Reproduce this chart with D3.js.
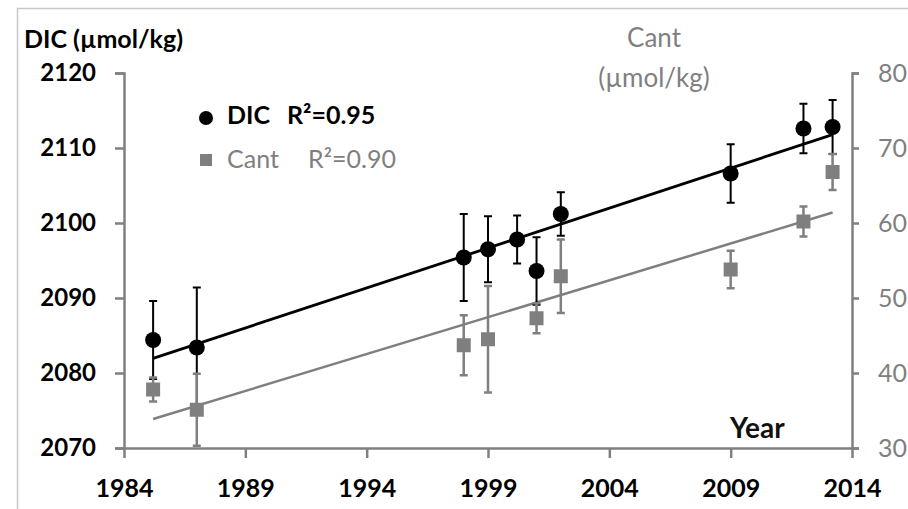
<!DOCTYPE html>
<html>
<head>
<meta charset="utf-8">
<script src="https://cdn.jsdelivr.net/npm/d3@7"></script>
<style>
  html, body { margin: 0; padding: 0; background: #fff; }
  svg { display: block; }
  text { font-family: Lato, "Open Sans", sans-serif; }
</style>
</head>
<body>
<svg id="chart" width="908" height="509"></svg>
<script>
// ---- data ----
const dicYears  = [1985.2, 1987, 1998, 1999, 2000.2, 2001, 2002, 2009, 2012, 2013.2];
const dicValues = [2084.4, 2083.4, 2095.4, 2096.5, 2097.8, 2093.6, 2101.2, 2106.6, 2112.6, 2112.8];
const dicErrors = [5.2, 8.0, 5.8, 4.4, 3.2, 4.5, 2.9, 3.9, 3.3, 3.6];

const cantYears  = [1985.2, 1987, 1998, 1999, 2001, 2002, 2009, 2012, 2013.2];
const cantValues = [37.8, 35.1, 43.7, 44.5, 47.3, 52.9, 53.8, 60.2, 66.8];
const cantErrors = [1.6, 4.8, 4.0, 7.1, 2.0, 4.9, 2.5, 2.0, 2.4];

const xTicks      = [1984, 1989, 1994, 1999, 2004, 2009, 2014];
const leftTicks   = [2070, 2080, 2090, 2100, 2110, 2120];
const rightTicks  = [30, 40, 50, 60, 70, 80];
const legendItems = [
  { name: "DIC",  r2: "R\u00B2=0.95" },
  { name: "Cant", r2: "R\u00B2=0.90" }
];

// ---- layout ----
const svg = d3.select("#chart");
const X0 = 124, X1 = 852, Y0 = 448, Y1 = 73;
const BLACK = "#000", GRAY = "#7f7f7f", AXIS = "#808080";

const x  = d3.scaleLinear().domain([1984, 2014]).range([X0, X1]);
const yL = d3.scaleLinear().domain([2070, 2120]).range([Y0, Y1]);
const yR = d3.scaleLinear().domain([30, 80]).range([Y0, Y1]);

// outer frame (cropped border)
svg.append("path")
  .attr("d", "M17.5,509 V8.5 H908")
  .attr("fill", "none").attr("stroke", "#c8c8c8").attr("stroke-width", 1.5);

// ---- axes ----
function styleAxis(g, color, weight) {
  g.select(".domain").attr("stroke", AXIS).attr("stroke-width", 2.5);
  g.selectAll(".tick line").attr("stroke", AXIS).attr("stroke-width", 2.5);
  g.selectAll(".tick text")
    .attr("fill", color)
    .attr("font-size", 24)
    .attr("font-weight", weight)
    .attr("font-family", "Lato, sans-serif");
}

const gx = svg.append("g").attr("transform", `translate(0,${Y0})`)
  .call(d3.axisBottom(x).tickValues(xTicks).tickFormat(d3.format("d"))
        .tickSize(10).tickSizeOuter(0).tickPadding(21));
styleAxis(gx, BLACK, "bold");
gx.selectAll(".tick text").attr("font-size", 25);

const gl = svg.append("g").attr("transform", `translate(${X0},0)`)
  .call(d3.axisLeft(yL).tickValues(leftTicks).tickFormat(d3.format("d"))
        .tickSize(9).tickSizeOuter(9).tickPadding(19));
styleAxis(gl, BLACK, "bold");

const gr = svg.append("g").attr("transform", `translate(${X1},0)`)
  .call(d3.axisRight(yR).tickValues(rightTicks).tickFormat(d3.format("d"))
        .tickSize(7).tickSizeOuter(7).tickPadding(19));
styleAxis(gr, GRAY, "normal");
gr.selectAll(".tick text").attr("font-size", 25);

// axis titles
svg.append("text").attr("x", 24).attr("y", 48)
  .attr("font-size", 25).attr("font-weight", "bold").attr("fill", BLACK)
  .text("DIC (\u00B5mol/kg)");

svg.append("text").attr("x", 654).attr("y", 47).attr("text-anchor", "middle")
  .attr("font-size", 26).attr("fill", GRAY).text("Cant");
svg.append("text").attr("x", 654).attr("y", 87).attr("text-anchor", "middle")
  .attr("font-size", 26).attr("fill", GRAY).text("(\u00B5mol/kg)");

svg.append("text").attr("x", 730).attr("y", 438)
  .attr("font-size", 28).attr("font-weight", "bold").attr("fill", "#111")
  .text("Year");

// ---- regression lines (least squares from the data) ----
function fit(xs, ys) {
  const mx = d3.mean(xs), my = d3.mean(ys);
  let sxy = 0, sxx = 0;
  xs.forEach((v, i) => { sxy += (v - mx) * (ys[i] - my); sxx += (v - mx) ** 2; });
  const b = sxy / sxx;
  return t => my + b * (t - mx);
}
const dicFit  = fit(dicYears, dicValues);
const cantFit = fit(cantYears, cantValues);

const line = d3.line();
const dicExt = d3.extent(dicYears), cantExt = d3.extent(cantYears);

svg.append("path")
  .attr("d", line(cantExt.map(t => [x(t), yR(cantFit(t))])))
  .attr("stroke", GRAY).attr("stroke-width", 2.5).attr("fill", "none");
svg.append("path")
  .attr("d", line(dicExt.map(t => [x(t), yL(dicFit(t))])))
  .attr("stroke", BLACK).attr("stroke-width", 2.8).attr("fill", "none");

// ---- DIC series ----
const dicData = dicYears.map((t, i) => ({ t, v: dicValues[i], e: dicErrors[i] }));
const gd = svg.append("g");
gd.selectAll("path.err").data(dicData).join("path").attr("class", "err")
  .attr("d", d => {
    const cx = x(d.t), yt = yL(d.v + d.e), yb = yL(d.v - d.e);
    return `M${cx},${yt}V${yb}M${cx - 4},${yt}H${cx + 4}M${cx - 4},${yb}H${cx + 4}`;
  })
  .attr("stroke", BLACK).attr("stroke-width", 2).attr("fill", "none");
gd.selectAll("circle").data(dicData).join("circle")
  .attr("cx", d => x(d.t)).attr("cy", d => yL(d.v)).attr("r", 8)
  .attr("fill", BLACK);

// ---- Cant series ----
const cantData = cantYears.map((t, i) => ({ t, v: cantValues[i], e: cantErrors[i] }));
const gc = svg.append("g");
gc.selectAll("path.err").data(cantData).join("path").attr("class", "err")
  .attr("d", d => {
    const cx = x(d.t), yt = yR(d.v + d.e), yb = yR(d.v - d.e);
    return `M${cx},${yt}V${yb}M${cx - 4},${yt}H${cx + 4}M${cx - 4},${yb}H${cx + 4}`;
  })
  .attr("stroke", GRAY).attr("stroke-width", 2.5).attr("fill", "none");
gc.selectAll("rect").data(cantData).join("rect")
  .attr("x", d => x(d.t) - 7).attr("y", d => yR(d.v) - 7)
  .attr("width", 14).attr("height", 14)
  .attr("fill", GRAY);

// ---- legend ----
const lg = svg.append("g");
const rows = lg.selectAll("g").data(legendItems).join("g")
  .attr("transform", (d, i) => `translate(0,${124 + i * 44})`);
rows.each(function(d, i) {
  const g = d3.select(this);
  const col = i === 0 ? BLACK : GRAY;
  const w = i === 0 ? "bold" : "normal";
  if (i === 0) g.append("circle").attr("cx", 206).attr("cy", -6).attr("r", 7).attr("fill", col);
  else g.append("rect").attr("x", 200).attr("y", -14).attr("width", 12).attr("height", 12).attr("fill", col);
  g.append("text").attr("x", 227).attr("y", 0).attr("font-size", 25).attr("font-weight", w)
    .attr("fill", col).text(d.name);
  g.append("text").attr("x", i === 0 ? 287 : 308).attr("y", 0).attr("font-size", 25)
    .attr("font-weight", w).attr("fill", col).text(d.r2);
});
</script>
</body>
</html>
